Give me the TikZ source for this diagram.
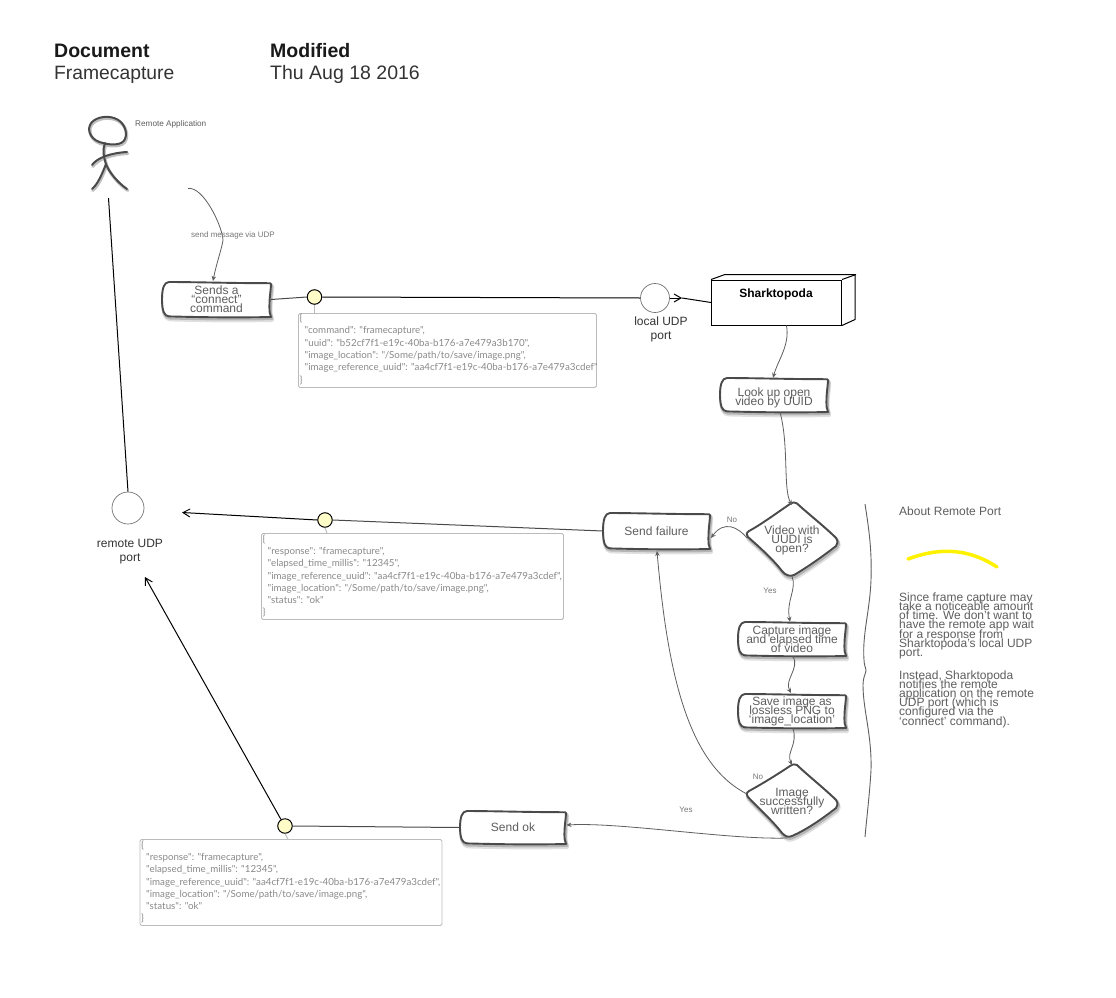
\documentclass[tikz,border=0pt]{standalone}
\usepackage{fontspec}
\setmainfont{Liberation Sans}
\newfontfamily\notefont{Lato}
\usetikzlibrary{arrows.meta,calc}
\definecolor{ink}{HTML}{5E5E5E}
\definecolor{sketchline}{HTML}{4A4A4A}
\definecolor{notegrey}{HTML}{8A8A8A}
\definecolor{noteedge}{HTML}{BBBBBB}
\definecolor{bead}{HTML}{FFFCC8}
\newcommand{\tightlines}{\lineskiplimit=-30pt\relax}
\tikzset{
  sketchtext/.style={inner sep=0pt,align=center,text=ink,font=\fontsize{12}{9}\selectfont\tightlines},
  plainlabel/.style={inner sep=0pt,align=left,anchor=west,text=ink,font=\fontsize{12}{9.15}\selectfont\tightlines},
  smalllabel/.style={inner sep=0pt,text=ink!85,font=\fontsize{8}{9}\selectfont},
  flow/.style={draw=ink,line width=0.8pt,-{Stealth[length=5pt,width=4.5pt]}},
  wire/.style={draw=black,line width=1pt},
  openhead/.style={draw=black,line width=1pt,-{Straight Barb[length=7pt,width=8pt]}},
  beadnode/.style={circle,draw=black,fill=bead,line width=1pt,minimum size=14.5pt,inner sep=0pt},
  portnode/.style={circle,draw=black!55,fill=white,line width=0.7pt,inner sep=0pt},
  notebox/.style={draw=noteedge,rounded corners=1.5pt,line width=0.9pt,anchor=north west,inner sep=0pt},
  notetext/.style={inner sep=0pt,anchor=north west,align=left,text=notegrey,font=\notefont\fontsize{9.75}{12.3}\selectfont\tightlines},
  stub/.style={draw=noteedge,line width=0.9pt},
  sketchedge/.style={draw=sketchline,line width=1.9pt,line join=round,fill=white},
  sketchshadow/.style={draw=black!45,line width=3.2pt,line join=round,opacity=.5},
  softshadow/.style={draw=black!30,line width=4pt,line join=round,opacity=.4},
  actorline/.style={draw=sketchline,line width=2pt,line cap=round},
  actorshadow/.style={draw=black!25,line width=3pt,line cap=round,shift={(0.8pt,-1.5pt)}}
}
% name, x0, y0, x1, y1, text
\newcommand{\sketchbox}[6]{%
  \pgfmathsetmacro{\xa}{#2}\pgfmathsetmacro{\ya}{#3}\pgfmathsetmacro{\xb}{#4}\pgfmathsetmacro{\yb}{#5}%
  \pgfmathsetmacro{\xm}{(\xa+\xb)/2}\pgfmathsetmacro{\ym}{(\ya+\yb)/2}%
  \def\boxpath{(\xa+7,\ya) .. controls (\xm-15,\ya+0.1) and (\xm+15,\ya+1.2) .. (\xb-1,\ya+1.2) -- (\xb,\ya+2.2)
     .. controls (\xb-0.2,\ya+9) and (\xb-2.2,\ym+1) .. (\xb-1.4,\yb-5) .. controls (\xb-1.2,\yb-3) and (\xb,\yb-2.5) .. (\xb,\yb)
     .. controls (\xm+15,\yb+0.8) and (\xm-15,\yb+0.2) .. (\xa+7,\yb-0.6)
     .. controls (\xa+2,\yb-1) and (\xa+0.2,\yb-6) .. (\xa,\ym)
     .. controls (\xa+0.1,\ya+6) and (\xa+2,\ya+0.3) .. (\xa+7,\ya) -- cycle}%
  \begin{scope}[shift={(1.2pt,-3pt)}]\draw[softshadow] \boxpath;\end{scope}%
  \begin{scope}[shift={(0.8pt,-1.5pt)}]\draw[sketchshadow] \boxpath;\end{scope}%
  \draw[sketchedge] \boxpath;%
  \node[sketchtext,minimum width={(\xb-\xa)*1pt},minimum height={(\yb-\ya)*1pt}] (#1) at (\xm,\ym) {#6};%
}
\newcommand{\openpath}{(797,503.5) .. controls (806,512) and (825,527) .. (836,538) .. controls (838,541) and (838,544) .. (836,546) .. controls (822,557) and (806,568) .. (794,575) .. controls (790,577) and (785,575) .. (782,571) .. controls (772,558) and (758,546) .. (748,537) .. controls (746,535) and (746,533) .. (749,531) .. controls (762,524) and (778,512) .. (790,504) .. controls (793,502) and (795,502) .. (797,503.5) -- cycle}
\newcommand{\writtenpath}{(797,765) .. controls (806,774) and (825,789) .. (836,800) .. controls (838,803) and (838,806) .. (836,808) .. controls (822,819) and (806,830) .. (792,836) .. controls (788,838) and (785,836) .. (782,833) .. controls (772,820) and (758,808) .. (748,797) .. controls (746,795) and (746,793) .. (749,791) .. controls (762,784) and (778,774) .. (790,766) .. controls (793,764) and (795,764) .. (797,765) -- cycle}
\begin{document}
\begin{tikzpicture}[x=1pt,y=-1pt]
\useasboundingbox (0,0) rectangle (1116,998);
\fill[white] (0,0) rectangle (1116,998);

% header
\node[inner sep=0pt,anchor=west,font=\bfseries\fontsize{19.5}{22}\selectfont,text=black!90] (hdoc) at (54,51) {Document};
\node[inner sep=0pt,anchor=west,font=\fontsize{19.3}{22}\selectfont,text=black!80] (hname) at (54,74.5) {Framecapture};
\node[inner sep=0pt,anchor=west,font=\bfseries\fontsize{19.5}{22}\selectfont,text=black!90] (hmod) at (270,51) {Modified};
\node[inner sep=0pt,anchor=west,font=\fontsize{19.5}{22}\selectfont,text=black!80] (hdate) at (270,74.5) {Thu Aug 18 2016};

% actor
\foreach \sty in {actorshadow,actorline}{
  \draw[\sty] (103,143) .. controls (92,141) and (87,132) .. (90,125)
     .. controls (93,118) and (105,115) .. (114,118)
     .. controls (124,121) and (128,132) .. (125,139)
     .. controls (122,146) and (110,145) .. (103,143);
  \draw[\sty] (105,143) .. controls (102,150) and (104,158) .. (106,164)
     .. controls (109,172) and (117,182) .. (127,189);
  \draw[\sty] (106,164) .. controls (102,174) and (98,184) .. (92,189);
  \draw[\sty] (92,165) .. controls (97,158) and (110,153) .. (127,152);
}
\node[inner sep=0pt,anchor=west,text=ink,font=\fontsize{8.2}{9}\selectfont] (actorlabel) at (135,124) {Remote Application};
\coordinate (actorfoot) at (108.5,198);
\coordinate (msgstart) at (188,188.5);

% ports and beads
\node[portnode,minimum size=32pt] (remote) at (128,508) {};
\node[portnode,minimum size=29pt] (localport) at (655,298) {};
\node[beadnode] (b1) at (314.5,297) {};
\node[beadnode] (b2) at (325,520) {};
\node[beadnode] (b3) at (285,826) {};

% boxes
\sketchbox{sends}{162}{282}{271}{317}{Sends a\\``connect''\\command}
\sketchbox{lookup}{720}{378}{828}{412}{\rule{0pt}{14pt}Look up open\\video by UUID}
\sketchbox{failure}{603}{513}{710}{549}{Send failure}
\sketchbox{capture}{738}{622}{846}{656}{Capture image\\and elapsed time\\of video}
\sketchbox{save}{738}{694}{846}{728}{Save image as\\lossless PNG to\\`image\_location'}
\sketchbox{sendok}{460}{811}{566}{844}{Send ok}

% diamonds
\begin{scope}[shift={(1.2pt,-3pt)}]
\draw[softshadow] \openpath;
\draw[softshadow] \writtenpath;
\end{scope}
\begin{scope}[shift={(0.8pt,-1.5pt)}]
\draw[sketchshadow] \openpath;
\draw[sketchshadow] \writtenpath;
\end{scope}
\draw[sketchedge] \openpath;
\draw[sketchedge] \writtenpath;
\node[sketchtext,minimum width=92pt,minimum height=73pt] (open) at (792,539.5) {\rule{0pt}{11pt}Video with\\UUDI is\\open?};
\node[sketchtext,minimum width=92pt,minimum height=73pt] (written) at (792,801) {Image\\successfully\\written?};

% Sharktopoda
\node[draw=black,fill=white,line width=1pt,minimum width=130pt,minimum height=45pt,inner sep=0pt] (shark) at (776.5,302.5) {};
\draw[black,line width=1pt,line join=round] (shark.north west) -- ++(14,-5) -- ++(130,0) -- ++(0,45) -- (shark.south east);
\draw[black,line width=1pt] (shark.north east) -- ++(14,-5);
\node[inner sep=0pt,font=\bfseries\fontsize{12}{14}\selectfont] (sharklabel) at (776,294) {Sharktopoda};

% notes
\node[notebox,minimum width=298pt,minimum height=74pt] (n1) at (298,313) {};
\node[notetext] (n1t) at (299.5,314) {\{\\\hspace{5pt}"command": "framecapture",\\\hspace{5pt}"uuid": "b52cf7f1-e19c-40ba-b176-a7e479a3b170",\\\hspace{5pt}"image\_location": "/Some/path/to/save/image.png",\\\hspace{5pt}"image\_reference\_uuid": "aa4cf7f1-e19c-40ba-b176-a7e479a3cdef"\\\}};
\node[notebox,minimum width=302pt,minimum height=86pt] (n2) at (261,533) {};
\node[notetext] (n2t) at (262.5,534.5) {\{\\\hspace{5pt}"response": "framecapture",\\\hspace{5pt}"elapsed\_time\_millis": "12345",\\\hspace{5pt}"image\_reference\_uuid": "aa4cf7f1-e19c-40ba-b176-a7e479a3cdef",\\\hspace{5pt}"image\_location": "/Some/path/to/save/image.png",\\\hspace{5pt}"status": "ok"\\\}};
\node[notebox,minimum width=302pt,minimum height=86pt] (n3) at (139.5,839) {};
\node[notetext] (n3t) at (141,840.5) {\{\\\hspace{5pt}"response": "framecapture",\\\hspace{5pt}"elapsed\_time\_millis": "12345",\\\hspace{5pt}"image\_reference\_uuid": "aa4cf7f1-e19c-40ba-b176-a7e479a3cdef",\\\hspace{5pt}"image\_location": "/Some/path/to/save/image.png",\\\hspace{5pt}"status": "ok"\\\}};
\draw[stub] (b1.south) -- (b1.south |- n1.north);
\draw[stub] (b2.south) -- (327,533);
\draw[stub] (b3.south) -- (288,839);

% wires
\draw[wire] (actorfoot) -- (remote.north);
\draw[draw=sketchline,line width=1pt] (sends.east) -- (b1.west);
\draw[wire] (b1.east) -- (localport.west);
\coordinate (portarrow) at (682,298);
\draw[openhead] (localport.east) -- (portarrow);
\draw[wire] (portarrow) -- (shark.west);
\draw[draw=sketchline,line width=1pt] (failure.west) -- (b2.east);
\coordinate (remoteright) at (182,512.5);
\draw[openhead] (b2.west) -- (remoteright);
\draw[draw=sketchline,line width=1pt] (sendok.west) -- (b3.east);
\coordinate (remotelow) at (145,577);
\draw[openhead] (b3) ++(-4,-6.5) -- (remotelow);

% flows
\draw[flow] (msgstart) .. controls (203,186) and (222,225) .. (223,240) .. controls (222,248) and (216,265) .. (213,281);
\draw[flow] ([xshift=10pt]shark.south) .. controls (790,345) and (778,360) .. ([xshift=-1pt]lookup.north);
\draw[flow] ([xshift=6pt]lookup.south) .. controls (789,445) and (783,490) .. (792,505);
\draw[flow] (747,538) .. controls (738,527) and (724,520) .. (711,538);
\draw[flow] (792,576) .. controls (797,590) and (786,600) .. ([xshift=-2pt]capture.north);
\draw[flow] ([xshift=1pt]capture.south) .. controls (800,668) and (784,680) .. (791,693);
\draw[flow] ([xshift=1pt]save.south) .. controls (798,745) and (786,752) .. (792,765);
\draw[flow] (747,794) .. controls (690,765) and (668,680) .. (657,551);
\draw[flow] (787,838) .. controls (730,840) and (620,822) .. (566.5,825);

% edge labels
\node[smalllabel] (lbltcp) at (233,235) {send message via UDP};
\node[smalllabel] (lblno1) at (732,520) {No};
\node[smalllabel] (lblyes1) at (770,590.5) {Yes};
\node[smalllabel] (lblno2) at (758,776.5) {No};
\node[smalllabel] (lblyes2) at (686,809.5) {Yes};

% port labels
\node[inner sep=0pt,align=center,text=black!80,font=\fontsize{12}{14}\selectfont] (locallbl) at (661,329) {local UDP\\port};
\node[inner sep=0pt,align=center,text=black!80,font=\fontsize{12}{14}\selectfont] (remotelbl) at (130,552) {remote UDP\\port};

% right annotation
\draw[draw=ink,line width=0.9pt] (865,504) .. controls (869,530) and (872,550) .. (871,580) .. controls (870,610) and (862,635) .. (864,660) .. controls (864,665) and (866,668) .. (866,671) .. controls (865,675) and (863,678) .. (863,685) .. controls (863,710) and (872,735) .. (871,770) .. controls (870,790) and (867,815) .. (865,837);
\node[plainlabel] (abouthead) at (899,511) {About Remote Port};
\draw[draw=yellow,line width=3.5pt,line cap=round] (908,559) .. controls (935,549) and (965,546) .. (997,567);
\node[plainlabel,anchor=north west] (aboutbody) at (899,592.5) {Since frame capture may\\take a noticeable amount\\of time. We don’t want to\\have the remote app wait\\for a response from\\Sharktopoda’s local UDP\\port.\\[13.8pt]Instead, Sharktopoda\\notifies the remote\\application on the remote\\UDP port (which is\\configured via the\\‘connect’ command).};
\end{tikzpicture}
\end{document}
